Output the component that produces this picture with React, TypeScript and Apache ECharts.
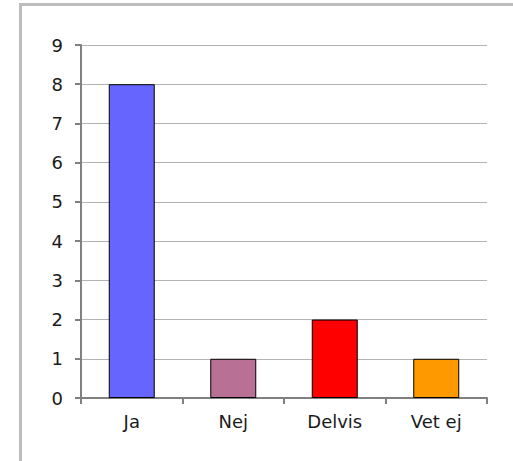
import React, { useEffect, useRef } from "react";
import * as echarts from "echarts";

const categories = ["Ja", "Nej", "Delvis", "Vet ej"];
const values = [8, 1, 2, 1];
const barColors = ["#6666ff", "#b87094", "#ff0000", "#ff9900"];
const yMin = 0;
const yMax = 9;
const yInterval = 1;

export default function App() {
  const ref = useRef<HTMLDivElement>(null);
  useEffect(() => {
    if (!ref.current) return;
    const chart = echarts.init(ref.current, null, { renderer: "svg" });
    const font = "'DejaVu Sans', Verdana, sans-serif";
    chart.setOption({
      animation: false,
      backgroundColor: "#ffffff",
      grid: { left: 81, right: 26, top: 45, bottom: 63, containLabel: false },
      xAxis: {
        type: "category",
        data: categories,
        axisLine: { show: true, lineStyle: { color: "#808080", width: 2 } },
        axisTick: { show: true, alignWithLabel: false, length: 6, lineStyle: { color: "#808080", width: 2 } },
        axisLabel: { color: "#1a1a1a", fontSize: 18, fontFamily: font, margin: 14 },
        splitLine: { show: false },
      },
      yAxis: {
        type: "value",
        min: yMin,
        max: yMax,
        interval: yInterval,
        axisLine: { show: true, lineStyle: { color: "#808080", width: 2 } },
        axisTick: { show: true, length: 6, lineStyle: { color: "#808080", width: 2 } },
        axisLabel: { color: "#1a1a1a", fontSize: 18, fontFamily: font, margin: 18 },
        splitLine: { show: true, lineStyle: { color: "#b3b3b3", width: 1 } },
      },
      series: [
        {
          type: "bar",
          data: values.map((v, i) => ({
            value: v,
            itemStyle: { color: barColors[i], borderColor: "#000000", borderWidth: 1 },
          })),
          barWidth: 46,
        },
      ],
      graphic: [
        { type: "line", shape: { x1: 20.5, y1: 3, x2: 20.5, y2: 461 }, style: { stroke: "#bdbdbd", lineWidth: 3 } },
        { type: "line", shape: { x1: 19, y1: 4.5, x2: 513, y2: 4.5 }, style: { stroke: "#bdbdbd", lineWidth: 3 } },
      ],
    });
    return () => chart.dispose();
  }, []);
  return (
    <div
      ref={ref}
      style={{ position: "fixed", left: 0, top: 0, width: 513, height: 461 }}
    />
  );
}
